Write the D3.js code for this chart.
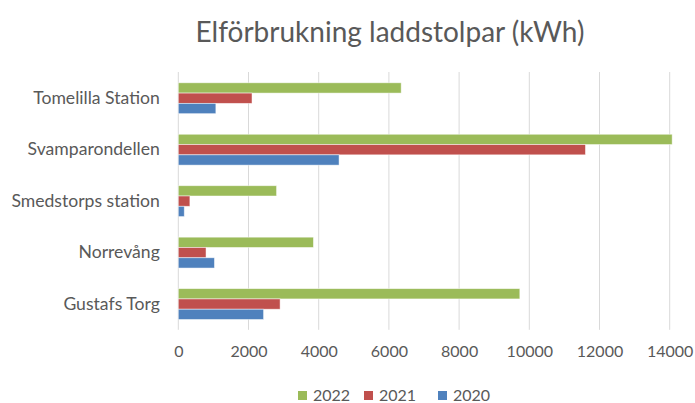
<!DOCTYPE html>
<html><head><meta charset="utf-8">
<script src="https://cdn.jsdelivr.net/npm/d3@7"></script>
<style>body{margin:0;background:#fff}svg{display:block}</style>
</head><body>
<svg id="chart" width="695" height="403"></svg>
<script>
const categories = ["Tomelilla Station","Svamparondellen","Smedstorps station","Norrevång","Gustafs Torg"];
const seriesNames = ["2022","2021","2020"];
const values2022 = [6350, 14070, 2800, 3850, 9730];
const values2021 = [2100, 11600, 330, 790, 2900];
const values2020 = [1070, 4580, 170, 1030, 2430];
const xTicks = [0,2000,4000,6000,8000,10000,12000,14000];
const colors = ["#9bbb59","#c0504d","#4f81bd"];
const title = "Elförbrukning laddstolpar (kWh)";

(function(){
const series = [values2022, values2021, values2020];
const svg = d3.select("#chart");
const font = "Lato, 'Open Sans', sans-serif";
const pLeft = 178.3, pRight = 669.7, pTop = 72.5, pBottom = 329.8;

const x = d3.scaleLinear().domain([0,14000]).range([pLeft,pRight]);
const y = d3.scaleBand().domain(categories).range([pTop,pBottom]).paddingInner(0.4).paddingOuter(0.2);
const ySub = d3.scaleBand().domain(seriesNames).range([0,y.bandwidth()]);

svg.append("g").selectAll("line").data(xTicks).join("line")
  .attr("x1",d=>x(d)).attr("x2",d=>x(d)).attr("y1",pTop-0.5).attr("y2",pBottom)
  .attr("stroke","#d9d9d9").attr("stroke-width",1);

const groups = svg.append("g").selectAll("g").data(categories).join("g")
  .attr("transform",d=>`translate(0,${y(d)})`);
groups.selectAll("rect").data((c,i)=>series.map((s,j)=>({name:seriesNames[j],v:s[i],col:colors[j]})))
  .join("rect")
  .attr("x",x(0)).attr("y",d=>ySub(d.name))
  .attr("width",d=>x(d.v)-x(0)).attr("height",ySub.bandwidth())
  .attr("fill",d=>d.col).attr("stroke","rgba(255,255,255,0.6)").attr("stroke-width",0.8);

const xAxis = d3.axisBottom(x).tickValues(xTicks).tickSize(0).tickFormat(d3.format("d"));
const gx = svg.append("g").attr("transform",`translate(0,${pBottom+13})`).call(xAxis);
gx.select(".domain").remove();
gx.selectAll("text").attr("fill","#595959").style("font-family",font).style("font-size","16px");

const yAxis = d3.axisLeft(y).tickSize(0).tickPadding(18.5);
const gy = svg.append("g").attr("transform",`translate(${pLeft},0)`).call(yAxis);
gy.select(".domain").remove();
gy.selectAll("text").attr("fill","#595959").style("font-family",font).style("font-size","17.6px");

svg.append("text").attr("x",390).attr("y",42).attr("text-anchor","middle")
  .attr("fill","#595959").style("font-family",font).style("font-size","28px").text(title);

const legendX = [298, 364, 438];
const lg = svg.append("g").selectAll("g").data(seriesNames).join("g")
  .attr("transform",(d,i)=>`translate(${legendX[i]},391)`);
lg.append("rect").attr("width",9).attr("height",9).attr("y",0).attr("fill",(d,i)=>colors[i]);
lg.append("text").attr("x",15).attr("y",10).attr("fill","#595959")
  .style("font-family",font).style("font-size","16px").text(d=>d);
})();
</script>
</body></html>
